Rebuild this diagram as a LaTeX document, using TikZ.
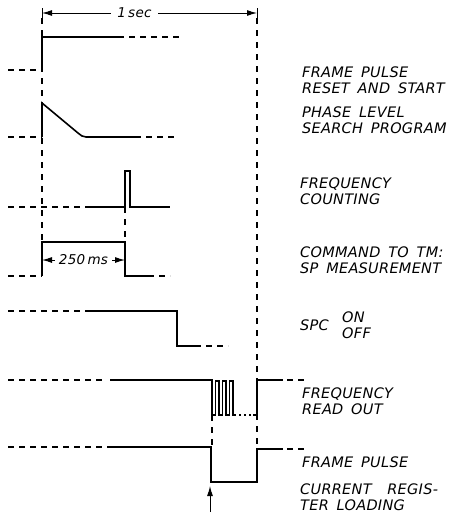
\documentclass[tikz,border=0pt]{standalone}
\usepackage{fontspec}
\newfontfamily\sigfont[LetterSpace=2, WordSpace=1.6]{DejaVu Sans}
\usepackage{tikz}
\usetikzlibrary{positioning, arrows.meta}

\begin{document}
\begin{tikzpicture}[
    x=1pt, y=-1pt,
    >={Latex[length=10pt, width=6pt]},
    signal/.style={draw=black, line width=1.6pt},
    idle/.style={draw=black, line width=1.6pt, dash pattern=on 6pt off 5pt},
    marker/.style={draw=black, line width=1.1pt, dash pattern=on 6pt off 6pt},
    dim/.style={draw=black, line width=1pt},
    sigtext/.style={font=\sigfont\itshape\fontsize{14.5}{16}\selectfont, align=left, anchor=west, inner sep=0pt}
]

\useasboundingbox (0,0) rectangle (451,517);
\clip (0,0) rectangle (451,517);

% Time marks: start and end of the one second frame
\coordinate (t0) at (42,8);
\coordinate (t1) at (257,8);
\draw[marker] (42,18) -- (42,242);
\draw[marker] (257,18) -- (257,450);
\draw[marker] (125,207) -- (125,242);
\draw[marker] (212,415) -- (212,447);

% Dimension: 1 sec
\draw[dim] (t0) -- ++(0,10);
\draw[dim] (t1) -- ++(0,10);
\draw[dim, <->] (42,13) -- (257,13) node[pos=0.43, fill=white, inner xsep=6pt, font=\sigfont\itshape\fontsize{13.5}{15}\selectfont] (onesec) {1\,sec};

% Frame pulse reset and start
\draw[idle] (8,70) -- (42,70);
\draw[signal] (42,70) -- (42,37) -- (118,37);
\draw[idle] (118,37) -- (180,37);

% Phase level search program
\draw[idle] (8,137) -- (42,137);
\draw[signal] (42,137) -- (42,103) -- (78,133) to[out=-40, in=180] (86,137) -- (135,137);
\draw[idle] (135,137) -- (178,137);

% Frequency counting
\draw[idle] (8,207) -- (85,207);
\draw[signal] (85,207) -- (125,207) -- (125,171) -- (130,171) -- (130,207) -- (170,207);

% Command to TM
\draw[idle] (8,276) -- (42,276);
\draw[signal] (42,276) -- (42,242) -- (125,242) -- (125,276) -- (148,276);
\draw[idle] (148,276) -- (170,276);
\draw[dim, <->] (42,260) -- (125,260) node[midway, fill=white, inner xsep=4pt, font=\sigfont\itshape\fontsize{13.5}{15}\selectfont] (dt) {250\,ms};

% SPC on / off
\draw[idle] (8,311) -- (90,311);
\draw[signal] (90,311) -- (177,311) -- (177,346) -- (195,346);
\draw[idle] (195,346) -- (228,346);

% Frequency read out
\draw[idle] (8,380) -- (104,380);
\draw[signal] (110,380) -- (212,380) -- (212,415) -- (215.5,415) -- (215.5,381)
    -- (219,381) -- (219,415) -- (222.5,415) -- (222.5,381) -- (226,381) -- (226,415)
    -- (229.5,415) -- (229.5,381) -- (233,381) -- (233,415) -- (236,415);
\draw[black, line width=1.6pt, dash pattern=on 2pt off 3pt] (239,415) -- (253,415);
\draw[signal] (253,415) -- (257,415) -- (257,380) -- (283,380);
\draw[idle] (287,380) -- (305,380);

% Frame pulse, current register loading
\draw[idle] (8,447) -- (102,447);
\draw[signal] (107,447) -- (211,447) -- (211,482) -- (257,482) -- (257,449) -- (283,449);
\draw[idle] (287,449) -- (305,449);
\draw[dim, ->] (210,512) -- (210,486);

% Labels
\node[sigtext] (frame) at (302,80) {FRAME PULSE\\RESET AND START};
\node[sigtext] (phase) at (302,120) {PHASE LEVEL\\SEARCH PROGRAM};
\node[sigtext] (count) at (300,191) {FREQUENCY\\COUNTING};
\node[sigtext] (cmd) at (300,260) {COMMAND TO TM:\\SP MEASUREMENT};
\node[sigtext] (spc) at (300,325) {SPC};
\node[sigtext] (onoff) at (342,325) {ON\\OFF};
\node[sigtext] (read) at (302,401) {FREQUENCY\\READ OUT};
\node[sigtext] (fp) at (302,462) {FRAME PULSE};
\node[sigtext] (load) at (300,497) {CURRENT \ REGIS-\\TER LOADING};

\end{tikzpicture}
\end{document}
